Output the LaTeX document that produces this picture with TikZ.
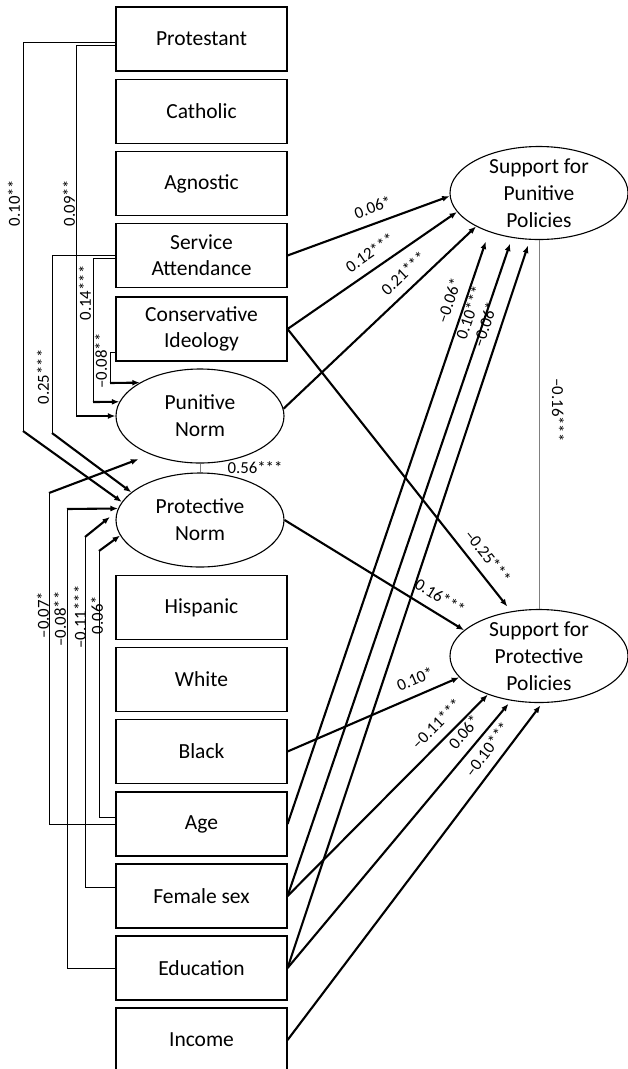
\documentclass[tikz,border=0pt]{standalone}
\usepackage{fontspec}
\setmainfont{Carlito}
\usetikzlibrary{arrows.meta,shapes.geometric}

\tikzset{
  varbox/.style={draw, line width=1.1pt, minimum width=171pt, minimum height=64pt,
    align=center, font=\fontsize{21.5}{26}\selectfont},
  latent/.style={draw, ellipse, line width=1.1pt, minimum width=168pt, minimum height=94pt,
    align=center, font=\fontsize{21.5}{27}\selectfont},
  outcome/.style={latent, minimum width=178pt, minimum height=93pt, inner ysep=-6pt},
  elbow/.style={line width=1pt},
  effect/.style={line width=2.1pt, -{Latex[length=7.5pt,width=6pt]}},
  corr/.style={line width=1pt, gray},
  coef/.style={font=\fontsize{16.8}{20}\selectfont, inner sep=1pt},
  onpath/.style={coef, sloped, above=8pt}
}

\begin{document}
\begin{tikzpicture}[x=1pt, y=-1pt]
  \useasboundingbox (0,0) rectangle (628,1069);

  % predictors
  \node[varbox] (prot) at (201.5,39)   {Protestant};
  \node[varbox] (cath) at (201.5,111.5) {Catholic};
  \node[varbox] (agn)  at (201.5,183.5) {Agnostic};
  \node[varbox] (sa)   at (201.5,255.5) {Service\\Attendance};
  \node[varbox] (ci)   at (201.5,329)   {Conservative\\Ideology};
  \node[varbox] (hisp) at (201.5,607.5) {Hispanic};
  \node[varbox] (wh)   at (201.5,679.5) {White};
  \node[varbox] (bl)   at (201.5,751.5) {Black};
  \node[varbox] (age)  at (201.5,824)   {Age};
  \node[varbox] (fe)   at (201.5,896)   {Female sex};
  \node[varbox] (ed)   at (201.5,968)   {Education};
  \node[varbox] (inc)  at (201.5,1040)  {Income};

  % norms and outcomes
  \node[latent] (pn)  at (200,416) {Punitive\\Norm};
  \node[latent] (prn) at (200,520) {Protective\\Norm};
  \node[outcome] (spp)  at (539,193) {Support for\\Punitive\\Policies};
  \node[outcome] (sppr) at (539,656) {Support for\\Protective\\Policies};

  % correlations
  \draw[corr] (pn.south) -- (prn.north);
  \node[coef] at (255,468) {0.56***};
  \draw[corr] (spp.south) -- (sppr.north);
  \node[coef, rotate=-90] at (558,410) {–0.16***};

  % paths into the norms
  \draw[elbow] ([yshift=-3pt]prot.west) -| (23,431) coordinate (k1);
  \draw[effect] (k1) -- (prn.167);
  \node[coef, rotate=90] at (14,203) {0.10**};

  \draw[elbow] ([yshift=-6pt]prot.west) -| (76,416) coordinate (k2);
  \draw[effect] (k2) -- (pn.west);
  \node[coef, rotate=90] at (69,203) {0.09**};

  \draw[elbow] ([yshift=-2.5pt]sa.west) -| (93,402) coordinate (k3);
  \draw[effect] (k3) -- (pn.170);
  \node[coef, rotate=90] at (85,293) {0.14***};

  \draw[elbow] (sa.west) -| (52,433) coordinate (k4);
  \draw[effect] (k4) -- (prn.158);
  \node[coef, rotate=90] at (43,377) {0.25***};

  \draw[elbow] ([yshift=-23pt]ci.west) -| (110,383) coordinate (k5);
  \draw[effect] (k5) -- (pn.151);
  \node[coef, rotate=90] at (101,361) {–0.08**};

  \draw[elbow] (age.west) -| (49,493) coordinate (k6);
  \draw[effect, shorten >=13pt] (k6) -- (pn.218);
  \node[coef, rotate=90] at (43,615) {–0.07*};

  \draw[elbow] ([yshift=7pt]age.west) -| (99,551) coordinate (k7);
  \draw[effect] (k7) -- (prn.191);
  \node[coef, rotate=90] at (97,615) {0.06*};

  \draw[elbow] ([yshift=9pt]fe.west) -| (85,537) coordinate (k8);
  \draw[effect, shorten >=9pt] (k8) -- (prn.174);
  \node[coef, rotate=90] at (80,617) {–0.11***};

  \draw[elbow] (ed.west) -| (67,509) coordinate (k9);
  \draw[effect] (k9) -- (prn.172);
  \node[coef, rotate=90] at (60,619) {–0.08**};

  % paths into the outcomes
  \draw[effect] (sa.east) -- (spp.182) node[onpath, pos=0.56] {0.06*};
  \draw[effect] (ci.east) -- (spp.193) node[onpath, pos=0.54] {0.12***};
  \draw[effect] (pn.5) -- (spp.208) node[onpath, pos=0.68] {0.21***};
  \draw[effect, shorten >=6pt] (ci.east) -- (sppr.122) node[onpath, pos=0.84] {–0.25***};
  \draw[effect] (prn.east) -- (sppr.161) node[onpath, pos=0.82] {0.16***};
  \draw[effect] (bl.east) -- (sppr.195) node[onpath, pos=0.78] {0.10*};
  \draw[effect, shorten >=10pt] (age.east) -- (spp.218) node[onpath, pos=0.876] {–0.06*};
  \draw[effect, shorten >=6pt] (fe.east) -- (spp.239) node[onpath, pos=0.878] {0.10***};
  \draw[effect, shorten >=6pt] (ed.east) -- (spp.259) node[onpath, pos=0.877] {–0.06*};
  \draw[effect] (fe.east) -- (sppr.217) node[onpath, pos=0.80] {–0.11***};
  \draw[effect, shorten >=4pt] (ed.east) -- (sppr.238) node[onpath, pos=0.844] {0.06*};
  \draw[effect, shorten >=3pt] (inc.east) -- (sppr.274) node[onpath, pos=0.834] {–0.10***};
\end{tikzpicture}
\end{document}
